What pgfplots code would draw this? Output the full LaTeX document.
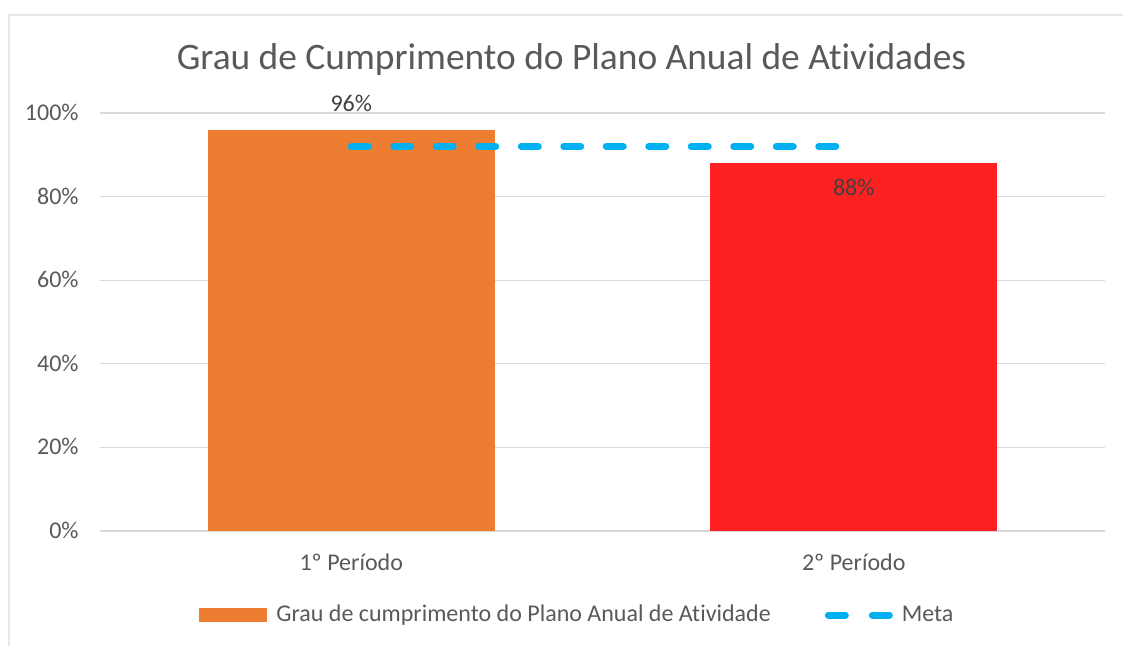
\documentclass[border=0pt]{standalone}
\usepackage{fontspec}
\setmainfont{Carlito}[Ligatures=NoCommon]
\usepackage{pgfplots}
\pgfplotsset{compat=1.18}

\definecolor{barorange}{HTML}{ED7D31}
\definecolor{barred}{HTML}{FF2121}
\definecolor{metablue}{HTML}{00B0F0}
\definecolor{gridgray}{HTML}{D9D9D9}
\definecolor{framegray}{HTML}{E8E8E8}
\definecolor{textgray}{HTML}{595959}
\definecolor{labelgray}{HTML}{404040}

\begin{document}
\begin{tikzpicture}[x=0.5pt, y=0.5pt]
% 1 px of the reference = 0.5pt
\useasboundingbox (0,0) rectangle (1123,646);
\draw[framegray, line width=0.8pt] (9,0) -- (9,631) -- (1123,631);
\node[textgray, font=\fontsize{18.7}{22}\selectfont] at (571.5,586) {Grau de Cumprimento do Plano Anual de Atividades};

\begin{axis}[
    at={(50pt,57.5pt)}, anchor=south west,
    scale only axis,
    width=502.5pt, height=209pt,
    ybar, bar width=143.5pt, bar shift=0pt,
    xmin=-0.5, xmax=1.5,
    ymin=0, ymax=100,
    xtick={0,1},
    xticklabels={1º Período, 2º Período},
    ytick={0,20,40,60,80,100},
    yticklabel={\pgfmathprintnumber{\tick}\%},
    /pgf/number format/assume math mode=true,
    tick label style={textgray, font=\fontsize{12}{14}\selectfont, inner sep=0pt},
    yticklabel style={anchor=base east, xshift=-10.5pt, yshift=-3.8pt},
    xticklabel style={anchor=base, yshift=-19.9pt},
    major tick length=0pt,
    axis line style={draw=none},
    ymajorgrids, grid style={gridgray, line width=0.6pt},
    legend style={
        at={(0.0985,-0.201)}, anchor=west,
        draw=none, fill=none, inner sep=0pt,
        legend columns=2,
        font=\fontsize{12}{14}\selectfont, text=textgray,
        nodes={inner sep=0pt},
        /tikz/every odd column/.append style={column sep=4.5pt},
        /tikz/every even column/.append style={column sep=27pt},
    },
]
\addplot[fill=barorange, draw=none,
    nodes near coords={\pgfmathprintnumber{\pgfplotspointmeta}\%},
    every node near coord/.append style={labelgray, font=\fontsize{12}{14}\selectfont, anchor=base, inner sep=0pt, yshift=9.2pt},
    legend image code/.code={\fill[barorange] (0pt,-3.5pt) rectangle (34pt,3.5pt);}]
    coordinates {(0,96)};
\addlegendentry{Grau de cumprimento do Plano Anual de Atividade}
\addplot[fill=barred, draw=none, forget plot,
    nodes near coords={\pgfmathprintnumber{\pgfplotspointmeta}\%},
    every node near coord/.append style={labelgray, font=\fontsize{12}{14}\selectfont, anchor=base, inner sep=0pt, yshift=-16.3pt}]
    coordinates {(1,88)};
\addplot[sharp plot, draw=metablue, line width=3.5pt, line cap=round,
    dash pattern=on 8.5pt off 12.75pt, mark=none,
    legend image code/.code={\draw[metablue, line width=3.5pt, line cap=round, dash pattern=on 8.5pt off 13.5pt] (1.75pt,0pt) -- (32.25pt,0pt);}]
    coordinates {(0,92) (1,92)};
\addlegendentry{Meta}
\end{axis}
\end{tikzpicture}
\end{document}
